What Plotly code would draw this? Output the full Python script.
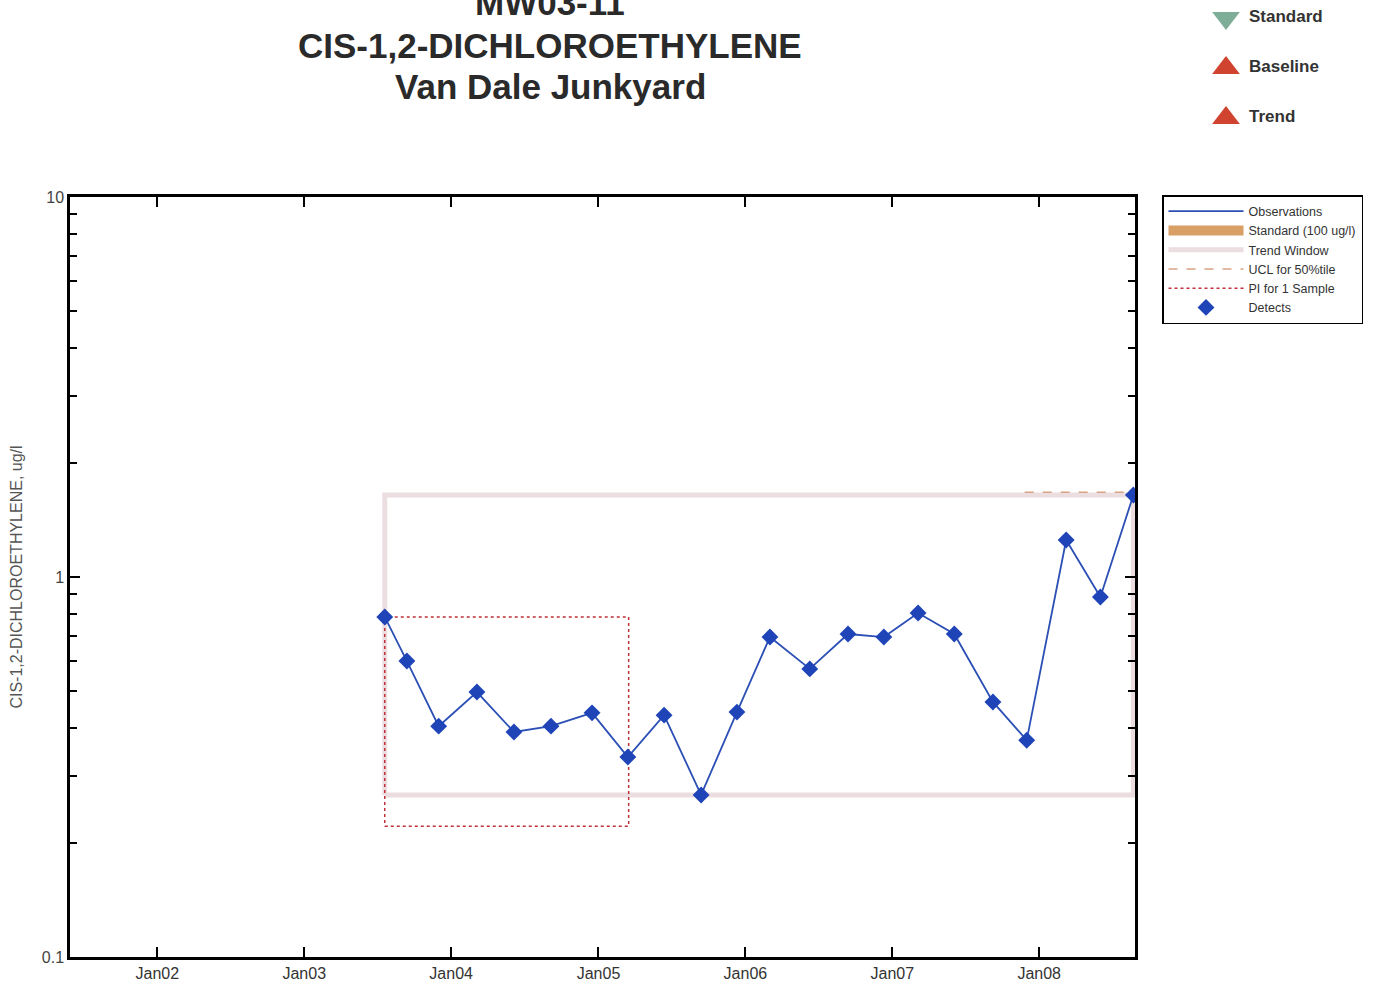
import plotly.graph_objects as go

# ---------------- data ----------------
obs_dates = ["2003-07-20", "2003-09-13", "2003-12-01", "2004-03-05", "2004-06-05",
             "2004-09-05", "2004-12-16", "2005-03-15", "2005-06-13", "2005-09-13",
             "2005-12-11", "2006-03-03", "2006-06-10", "2006-09-13", "2006-12-11",
             "2007-03-06", "2007-06-04", "2007-09-08", "2007-12-01", "2008-03-08",
             "2008-06-01", "2008-08-22"]
obs_values = [0.785, 0.601, 0.405, 0.498, 0.391, 0.405, 0.439, 0.336, 0.433, 0.267,
              0.441, 0.695, 0.573, 0.708, 0.695, 0.804, 0.708, 0.469, 0.372, 1.251,
              0.886, 1.643]

trend_dates = ["2003-07-20", "2008-08-22"]
trend_bounds = [0.267, 1.643]
pi_dates = ["2003-07-20", "2005-03-17"]
pi_bounds = [0.221, 0.785]
ucl_dates = ["2007-11-26", "2008-08-22"]
ucl_value = 1.67

x_range = ["2001-05-29", "2008-08-26"]
x_ticks = ["2002-01-01", "2003-01-01", "2004-01-01", "2005-01-01",
           "2006-01-01", "2007-01-01", "2008-01-01"]
y_ticks = [0.1, 1, 10]
y_tick_labels = ["0.1", "1", "10"]
y_minor = [0.2, 0.3, 0.4, 0.5, 0.6, 0.7, 0.8, 0.9, 2, 3, 4, 5, 6, 7, 8, 9]

status_labels = ["Standard", "Baseline", "Trend"]
status_symbols = ["triangle-down", "triangle-up", "triangle-up"]
status_colors = ["#7fae98", "#d0432f", "#d0432f"]

title_lines = ["MW03-11", "CIS-1,2-DICHLOROETHYLENE", "Van Dale Junkyard"]
y_title = "CIS-1,2-DICHLOROETHYLENE, ug/l"

FONT = "Liberation Sans, Arial, sans-serif"
W, H = 1373, 985


def rect(xs, ys):
    return [xs[0], xs[1], xs[1], xs[0], xs[0]], [ys[0], ys[0], ys[1], ys[1], ys[0]]


fig = go.Figure()

# Standard (legend only; off-scale)
fig.add_trace(go.Scatter(x=[None], y=[None], mode="lines", name="Standard (100 ug/l)",
                         line=dict(color="#d9a066", width=10), legendrank=2))

tx, ty = rect(trend_dates, trend_bounds)
fig.add_trace(go.Scatter(x=tx, y=ty, mode="lines", name="Trend Window",
                         line=dict(color="#ecdde0", width=5), legendrank=3,
                         hoverinfo="skip"))

px_, py_ = rect(pi_dates, pi_bounds)
fig.add_trace(go.Scatter(x=px_, y=py_, mode="lines", name="PI for 1 Sample",
                         line=dict(color="#c0303a", width=1.5, dash="dot"), legendrank=5))

fig.add_trace(go.Scatter(x=ucl_dates, y=[ucl_value] * len(ucl_dates), mode="lines",
                         name="UCL for 50%tile",
                         line=dict(color="#d9a383", width=1.5, dash="dash"), legendrank=4))

fig.add_trace(go.Scatter(x=obs_dates, y=obs_values, mode="lines", name="Observations",
                         line=dict(color="#2b4fb5", width=1.8), legendrank=1))

fig.add_trace(go.Scatter(x=obs_dates, y=obs_values, mode="markers", name="Detects",
                         marker=dict(symbol="diamond", size=13, color="#1f44b8"),
                         legendrank=6))

# status symbols (top right)
fig.add_trace(go.Scatter(x=[0] * 3, y=list(range(3)), mode="markers",
                         marker=dict(symbol=status_symbols, size=24, color=status_colors),
                         xaxis="x2", yaxis="y2", showlegend=False, cliponaxis=False))
fig.add_trace(go.Scatter(x=[1] * 3, y=list(range(3)), mode="text",
                         text=["<b>" + s + "</b>" for s in status_labels],
                         textposition="middle right",
                         textfont=dict(family=FONT, size=17, color="#333333"),
                         xaxis="x2", yaxis="y2", showlegend=False, cliponaxis=False))

annotations = []
title_y = [3, 45, 87]
for line, yy in zip(title_lines, title_y):
    annotations.append(dict(text="<b>" + line + "</b>", x=550 / W, y=1 - yy / H,
                            xref="paper", yref="paper", xanchor="center", yanchor="middle",
                            showarrow=False,
                            font=dict(family=FONT, size=35, color="#2a2a2a")))

fig.update_layout(
    template="none",
    width=W, height=H, autosize=False,
    margin=dict(l=0, r=0, t=0, b=0, pad=0),
    paper_bgcolor="white", plot_bgcolor="white",
    font=dict(family=FONT, color="#333333"),
    annotations=annotations,
    xaxis=dict(type="date", domain=[70 / W, 1135 / W], range=x_range, automargin=False,
               showline=True, linecolor="black", linewidth=2.5, mirror="ticks",
               ticks="inside", ticklen=10, tickwidth=2, tickcolor="black",
               tickvals=x_ticks, tickformat="%b%y",
               tickfont=dict(family=FONT, size=16, color="#333333"),
               showgrid=False, zeroline=False),
    yaxis=dict(type="log", domain=[1 - 957 / H, 1 - 197 / H], range=[-1, 1],
               automargin=False,
               showline=True, linecolor="black", linewidth=2.5, mirror="ticks",
               ticks="inside", ticklen=10, tickwidth=2, tickcolor="black",
               tickmode="array", tickvals=y_ticks, ticktext=y_tick_labels,
               tickfont=dict(family=FONT, size=16, color="#444444"),
               minor=dict(tickvals=y_minor, ticks="inside", ticklen=7, tickwidth=2,
                          tickcolor="black", showgrid=False),
               showgrid=False, zeroline=False,
               title=dict(text=y_title, standoff=16,
                          font=dict(family=FONT, size=16, color="#555555"))),
    xaxis2=dict(domain=[1203 / W, 1249 / W], range=[-1, 1], visible=False,
                anchor="y2", fixedrange=True, automargin=False),
    yaxis2=dict(domain=[1 - 140 / H, 1], range=[2.44, -0.36], visible=False,
                anchor="x2", fixedrange=True, automargin=False),
    legend=dict(x=1162 / W, y=1 - 195 / H, xanchor="left", yanchor="top",
                bordercolor="black", borderwidth=1.5, bgcolor="white",
                font=dict(family=FONT, size=12.5, color="#333333"),
                tracegroupgap=0, itemwidth=75),
    showlegend=True,
)

fig.write_html("out.html", config={"displayModeBar": False},
               post_script="document.body.style.margin='0';")
